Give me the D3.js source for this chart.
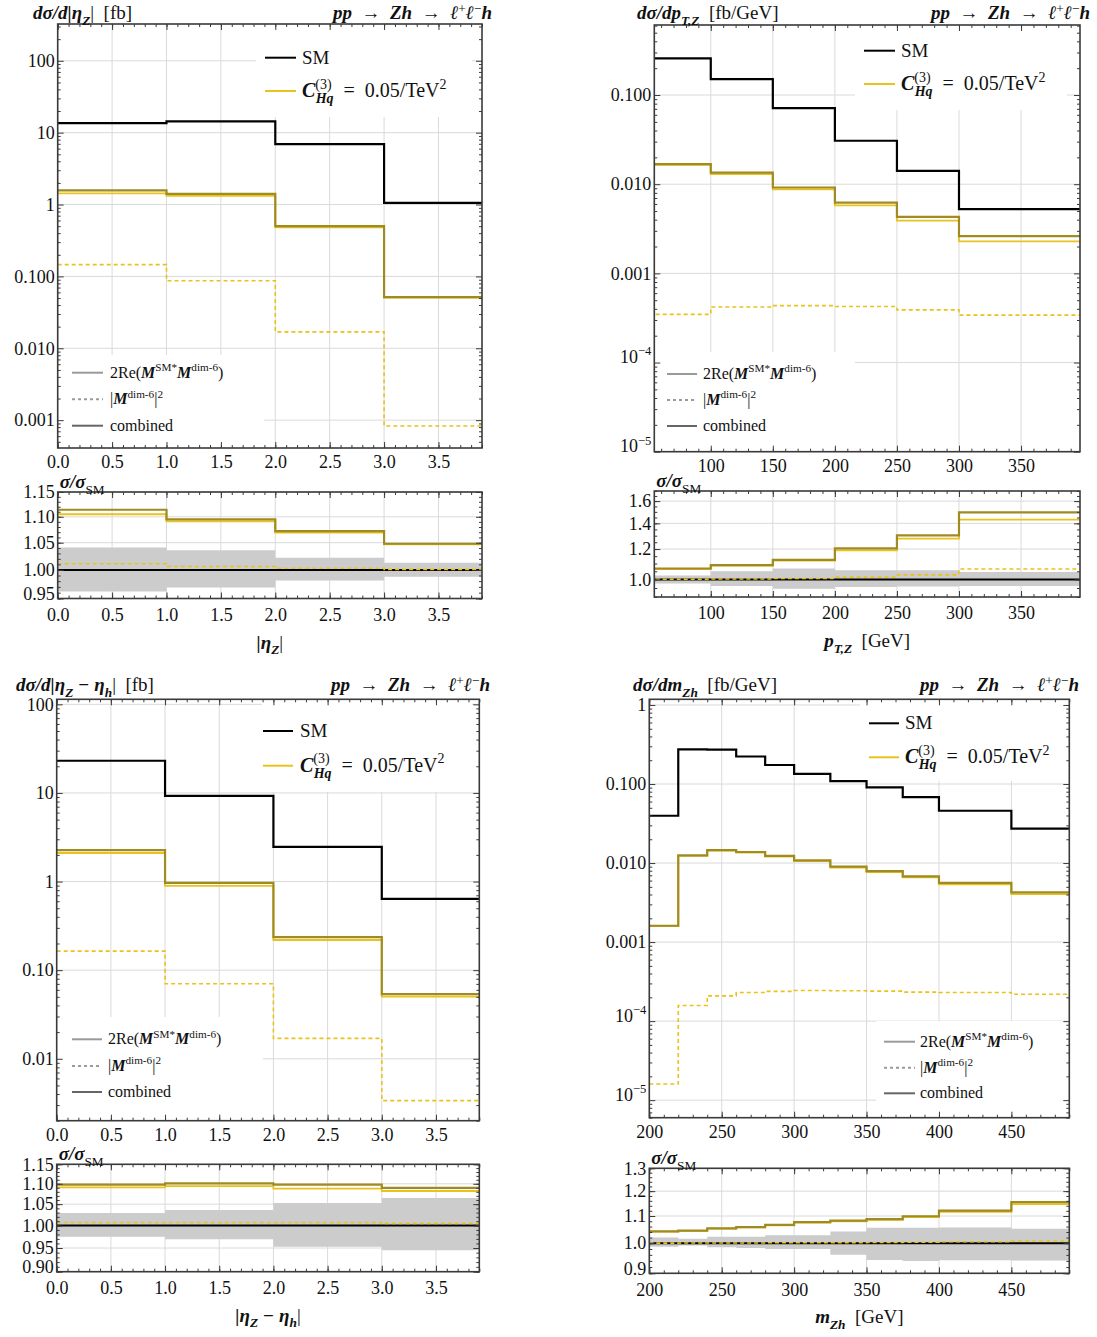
<!DOCTYPE html>
<html>
<head>
<meta charset="utf-8">
<script src="https://d3js.org/d3.v7.min.js"></script>
<style>
  body { margin: 0; background: #fff; }
  text { font-family: "Liberation Serif", "Times New Roman", serif; fill: #111; }
</style>
</head>
<body>
<svg id="chart" width="1097" height="1337"></svg>
<script>
// ---------- data ----------
// |eta_Z|
const etaEdges = [0, 1, 2, 3, 4];
const etaZ_sm = [13.6, 14.4, 6.93, 1.056];
const etaZ_int = [1.43, 1.32, 0.482, 0.0506];
const etaZ_sq = [0.146, 0.087, 0.0169, 0.00083];
const etaZ_comb = [1.57, 1.41, 0.50, 0.0514];
const etaZ_rComb = [1.114, 1.095, 1.072, 1.048];
const etaZ_rInt = [1.105, 1.091, 1.069, 1.047];
const etaZ_rSq = [1.011, 1.006, 1.003, 1.001];
const etaZ_bandHi = [1.041, 1.036, 1.022, 1.013];
const etaZ_bandLo = [0.962, 0.969, 0.981, 0.988];

// p_T,Z
const ptEdges = [50, 100, 150, 200, 250, 300, 400];
const pt_sm = [0.257, 0.151, 0.0714, 0.0307, 0.0141, 0.00525];
const pt_int = [0.0165, 0.0130, 0.00877, 0.0058, 0.0039, 0.00228];
const pt_sq = [3.47e-4, 4.2e-4, 4.35e-4, 4.25e-4, 3.9e-4, 3.4e-4];
const pt_comb = [0.0168, 0.01346, 0.00918, 0.00622, 0.00429, 0.00262];
const pt_rComb = [1.068, 1.090, 1.125, 1.205, 1.303, 1.496];
const pt_rInt = [1.064, 1.086, 1.119, 1.190, 1.277, 1.432];
const pt_rSq = [1.001, 1.003, 1.006, 1.014, 1.028, 1.065];
const pt_bandHi = [1.024, 1.051, 1.068, 1.056, 1.056, 1.045];
const pt_bandLo = [0.976, 0.961, 0.946, 0.955, 0.958, 0.961];

// |eta_Z - eta_h|
const deta_sm = [23.1, 9.25, 2.46, 0.637];
const deta_int = [2.10, 0.896, 0.219, 0.0503];
const deta_sq = [0.164, 0.0703, 0.0170, 0.00337];
const deta_comb = [2.26, 0.966, 0.236, 0.0537];
const deta_rComb = [1.098, 1.101, 1.098, 1.090];
const deta_rInt = [1.091, 1.094, 1.088, 1.082];
const deta_rSq = [1.007, 1.007, 1.007, 1.005];
const deta_bandHi = [1.029, 1.036, 1.053, 1.065];
const deta_bandLo = [0.975, 0.969, 0.953, 0.945];

// m_Zh
const mEdges = [200, 220, 240, 260, 280, 300, 325, 350, 375, 400, 450, 500];
const m_sm = [0.0397, 0.275, 0.272, 0.223, 0.174, 0.134, 0.109, 0.0906, 0.0684, 0.0459, 0.0272];
const m_int = [0.00159, 0.01234, 0.01439, 0.01357, 0.01206, 0.01056, 0.00876, 0.00766, 0.00657, 0.00537, 0.00404];
const m_sq = [1.6e-5, 1.58e-4, 2.09e-4, 2.3e-4, 2.38e-4, 2.44e-4, 2.42e-4, 2.4e-4, 2.33e-4, 2.3e-4, 2.19e-4];
const m_comb = [0.00161, 0.0125, 0.0146, 0.0138, 0.0123, 0.0108, 0.0090, 0.0079, 0.0068, 0.0056, 0.00426];
const m_rComb = [1.042, 1.045, 1.053, 1.058, 1.066, 1.077, 1.082, 1.088, 1.099, 1.121, 1.155];
const m_rInt = [1.0416, 1.0444, 1.0522, 1.057, 1.0646, 1.0752, 1.0798, 1.0854, 1.0956, 1.116, 1.147];
const m_rSq = [1.0004, 1.0006, 1.0008, 1.001, 1.0014, 1.0018, 1.0022, 1.0026, 1.0034, 1.005, 1.008];
const m_bandHi = [1.020, 1.016, 1.023, 1.023, 1.028, 1.028, 1.042, 1.056, 1.056, 1.057, 1.052];
const m_bandLo = [0.988, 0.992, 0.986, 0.983, 0.980, 0.980, 0.960, 0.943, 0.940, 0.942, 0.941];

// tick values / labels
const etaTicks = [0, 0.5, 1, 1.5, 2, 2.5, 3, 3.5];
const etaTickLabels = ["0.0", "0.5", "1.0", "1.5", "2.0", "2.5", "3.0", "3.5"];
const ptTicks = [100, 150, 200, 250, 300, 350];
const mTicks = [200, 250, 300, 350, 400, 450];

const etaZ_yTicks = [0.001, 0.01, 0.1, 1, 10, 100];
const etaZ_yLabels = ["0.001", "0.010", "0.100", "1", "10", "100"];
const pt_yTicks = [1e-5, 1e-4, 0.001, 0.01, 0.1];
const pt_yLabels = ["10^-5", "10^-4", "0.001", "0.010", "0.100"];
const deta_yTicks = [0.01, 0.1, 1, 10, 100];
const deta_yLabels = ["0.01", "0.10", "1", "10", "100"];
const m_yTicks = [1e-5, 1e-4, 0.001, 0.01, 0.1, 1];
const m_yLabels = ["10^-5", "10^-4", "0.001", "0.010", "0.100", "1"];

const etaZ_rTicks = [0.95, 1.0, 1.05, 1.1, 1.15];
const pt_rTicks = [1.0, 1.2, 1.4, 1.6];
const deta_rTicks = [0.9, 0.95, 1.0, 1.05, 1.1, 1.15];
const m_rTicks = [0.9, 1.0, 1.1, 1.2, 1.3];

// ---------- styles ----------
const YEL = "#e9c21c";
const OLIVE = "#a08a22";
const GRID = "#dadada";
const FRAME = "#3a3a3a";

const svg = d3.select("#chart");

function rich(sel, parts, size, supUp) {
  let shift = 0;
  const up = supUp || 0.42;
  parts.forEach(p => {
    const target = p.sub ? size * 0.3 : p.sup ? -size * up : 0;
    const ts = sel.append("tspan").text(p.t)
      .attr("dy", target - shift)
      .style("font-size", (p.sub || p.sup) ? (size * 0.7) + "px" : size + "px");
    if (p.dx) ts.attr("dx", p.dx);
    if (p.i) ts.style("font-style", "italic");
    if (p.b) ts.style("font-weight", "bold");
    shift = target;
  });
  return sel;
}

function labelFmt(labels, ticks) {
  return (d) => labels[ticks.indexOf(d)];
}

function fixPowLabels(g, size) {
  g.selectAll(".tick text").each(function() {
    const s = d3.select(this);
    const t = s.text();
    if (t.startsWith("10^")) {
      s.text("");
      rich(s, [{t: "10"}, {t: t.slice(3).replace("-", "\u2212"), sup: 1}], size);
    }
  });
}

function logMinor(dom) {
  const out = [];
  const lo = Math.floor(Math.log10(dom[0])), hi = Math.ceil(Math.log10(dom[1]));
  for (let e = lo; e <= hi; e++)
    for (let k = 2; k <= 9; k++) {
      const v = k * Math.pow(10, e);
      if (v >= dom[0] && v <= dom[1]) out.push(v);
    }
  return out;
}

function rangeStep(a, b, s) {
  const out = [];
  for (let v = a; v <= b + 1e-9; v += s) out.push(+v.toFixed(6));
  return out;
}

function stepPoints(edges, vals) {
  return edges.map((e, i) => [e, vals[Math.min(i, vals.length - 1)]]);
}

let clipId = 0;

function gridLines(g, x, y, y0, y1, xMajor, yMajor) {
  const x0 = x.range()[0], x1 = x.range()[1];
  g.append("g").selectAll("line").data(xMajor).join("line")
    .attr("x1", d => x(d)).attr("x2", d => x(d)).attr("y1", y0).attr("y2", y1)
    .attr("stroke", GRID).attr("stroke-width", 1);
  g.append("g").selectAll("line").data(yMajor).join("line")
    .attr("x1", x0).attr("x2", x1).attr("y1", d => y(d)).attr("y2", d => y(d))
    .attr("stroke", GRID).attr("stroke-width", 1);
}

function drawTicks(g, x, y, y0, y1, xMajor, xMinor, xFmt, yMajor, yMinor, yFmt, fs, isRatio) {
  const x0 = x.range()[0], x1 = x.range()[1];
  const ax = (gen, tx, ty) => {
    const a = g.append("g").attr("transform", `translate(${tx},${ty})`).call(gen);
    a.select(".domain").remove();
    a.selectAll(".tick line").attr("stroke", FRAME).attr("stroke-width", 1);
    a.selectAll(".tick text").style("font-size", fs + "px").attr("fill", "#111");
    return a;
  };
  const bx = ax(d3.axisBottom(x).tickValues(xMajor).tickFormat(xFmt).tickSizeInner(-6).tickSizeOuter(0)
    .tickPadding(isRatio ? 8 : 6), 0, y1);
  bx.selectAll(".tick text").attr("dy", "0.8em");
  ax(d3.axisBottom(x).tickValues(xMinor).tickFormat("").tickSizeInner(-3).tickSizeOuter(0), 0, y1);
  ax(d3.axisTop(x).tickValues(xMajor).tickFormat("").tickSizeInner(-6).tickSizeOuter(0), 0, y0);
  ax(d3.axisTop(x).tickValues(xMinor).tickFormat("").tickSizeInner(-3).tickSizeOuter(0), 0, y0);
  const ly = ax(d3.axisLeft(y).tickValues(yMajor).tickFormat(yFmt).tickSizeInner(-6).tickSizeOuter(0).tickPadding(3), x0, 0);
  fixPowLabels(ly, fs);
  if (isRatio) {
    // a label sitting on the bottom edge is lifted a little so it clears the x labels
    ly.selectAll(".tick text").filter(d => Math.abs(y(d) - y1) < 4).attr("dy", "0.05em");
  }
  ax(d3.axisLeft(y).tickValues(yMinor).tickFormat("").tickSizeInner(-3).tickSizeOuter(0), x0, 0);
  ax(d3.axisRight(y).tickValues(yMajor).tickFormat("").tickSizeInner(-6).tickSizeOuter(0), x1, 0);
  ax(d3.axisRight(y).tickValues(yMinor).tickFormat("").tickSizeInner(-3).tickSizeOuter(0), x1, 0);
  g.append("rect").attr("x", x0).attr("y", y0).attr("width", x1 - x0).attr("height", y1 - y0)
    .attr("fill", "none").attr("stroke", FRAME).attr("stroke-width", 1.6);
}

function panel(p) {
  const g = svg.append("g");
  const fs = 18;
  const x = d3.scaleLinear().domain(p.xDom).range([p.x0, p.x1]);
  const y = d3.scaleLog().domain(p.yDom).range([p.m1, p.m0]);
  const yr = d3.scaleLog().domain(p.rDom).range([p.r1, p.r0]);

  // ---- main plot ----
  gridLines(g, x, y, p.m0, p.m1, p.xTicks, p.yTicks);
  // legend backgrounds hide the grid
  g.append("rect").attr("x", p.legTop.bx0).attr("y", p.m0 + 1).attr("width", p.legTop.bx1 - p.legTop.bx0)
    .attr("height", p.legTop.by1 - p.m0 - 1).attr("fill", "#fff");
  g.append("rect").attr("x", p.legBot.bx0).attr("y", p.legBot.by0).attr("width", p.legBot.bx1 - p.legBot.bx0)
    .attr("height", p.m1 - p.legBot.by0 - 1).attr("fill", "#fff");

  const cid = "clip" + (clipId++);
  g.append("clipPath").attr("id", cid).append("rect")
    .attr("x", p.x0).attr("y", p.m0).attr("width", p.x1 - p.x0).attr("height", p.m1 - p.m0);
  const line = d3.line().x(d => x(d[0])).y(d => y(d[1])).curve(d3.curveStepAfter);
  const dm = g.append("g").attr("clip-path", `url(#${cid})`);
  dm.append("path").attr("d", line(stepPoints(p.edges, p.sq))).attr("fill", "none")
    .attr("stroke", YEL).attr("stroke-width", 1.6).attr("stroke-dasharray", "4,3");
  dm.append("path").attr("d", line(stepPoints(p.edges, p.int))).attr("fill", "none")
    .attr("stroke", YEL).attr("stroke-width", 1.8);
  dm.append("path").attr("d", line(stepPoints(p.edges, p.comb))).attr("fill", "none")
    .attr("stroke", OLIVE).attr("stroke-width", 2.2);
  dm.append("path").attr("d", line(stepPoints(p.edges, p.sm))).attr("fill", "none")
    .attr("stroke", "#000").attr("stroke-width", 2.2);

  drawTicks(g, x, y, p.m0, p.m1, p.xTicks, p.xMinor, p.xFmt, p.yTicks, logMinor(p.yDom),
    labelFmt(p.yLabels, p.yTicks), fs, false);

  // top legend
  const lt = p.legTop;
  g.append("line").attr("x1", lt.lx0).attr("x2", lt.lx1).attr("y1", lt.row1).attr("y2", lt.row1)
    .attr("stroke", "#000").attr("stroke-width", 2);
  g.append("line").attr("x1", lt.lx0).attr("x2", lt.lx1).attr("y1", lt.row2).attr("y2", lt.row2)
    .attr("stroke", YEL).attr("stroke-width", 2);
  g.append("text").attr("x", lt.tx).attr("y", lt.row1 + 6).style("font-size", "19px").text("SM");
  rich(g.append("text").attr("x", lt.tx).attr("y", lt.row2 + 6),
    [{t: "C", i: 1, b: 1}, {t: "(3)", sup: 1}, {t: "Hq", sub: 1, i: 1, b: 1, dx: -16},
     {t: "\u2002=\u20020.05/TeV"}, {t: "2", sup: 1}], 20);

  // bottom legend
  const lb = p.legBot;
  const styles = [{c: "#9a9a9a", d: null}, {c: "#9a9a9a", d: "3,3"}, {c: "#666", d: null}];
  lb.rows.forEach((ry, i) => {
    g.append("line").attr("x1", lb.lx0).attr("x2", lb.lx1).attr("y1", ry).attr("y2", ry)
      .attr("stroke", styles[i].c).attr("stroke-width", 2).attr("stroke-dasharray", styles[i].d);
  });
  rich(g.append("text").attr("x", lb.tx).attr("y", lb.rows[0] + 5),
    [{t: "2Re("}, {t: "M", i: 1, b: 1}, {t: "SM*", sup: 1}, {t: "M", i: 1, b: 1}, {t: "dim-6", sup: 1}, {t: ")"}], 16);
  rich(g.append("text").attr("x", lb.tx).attr("y", lb.rows[1] + 5),
    [{t: "|"}, {t: "M", i: 1, b: 1}, {t: "dim-6", sup: 1}, {t: "|"}, {t: "2", sup: 1}], 16);
  g.append("text").attr("x", lb.tx).attr("y", lb.rows[2] + 5).style("font-size", "16px").text("combined");

  // titles
  rich(g.append("text").attr("x", p.titleL).attr("y", p.titleY), p.yTitle, 19, 0.33);
  rich(g.append("text").attr("x", p.titleR).attr("y", p.titleY).attr("text-anchor", "end"),
    [{t: "pp\u2002\u2192\u2002Zh\u2002\u2192\u2002\u2113", i: 1, b: 1}, {t: "+", sup: 1}, {t: "\u2113", i: 1, b: 1},
     {t: "\u2212", sup: 1}, {t: "h", i: 1, b: 1}], 19, 0.33);

  // ---- ratio plot ----
  gridLines(g, x, yr, p.r0, p.r1, p.xTicks, p.rTicks);
  const cid2 = "clip" + (clipId++);
  g.append("clipPath").attr("id", cid2).append("rect")
    .attr("x", p.x0).attr("y", p.r0).attr("width", p.x1 - p.x0).attr("height", p.r1 - p.r0);
  const dr = g.append("g").attr("clip-path", `url(#${cid2})`);
  const band = d3.area().x(d => x(d[0])).y0(d => yr(d[1])).y1(d => yr(d[2])).curve(d3.curveStepAfter);
  const bandPts = p.edges.map((e, i) => {
    const k = Math.min(i, p.bandLo.length - 1);
    return [e, p.bandLo[k], p.bandHi[k]];
  });
  dr.append("path").attr("d", band(bandPts)).attr("fill", "#cccccc");
  const rline = d3.line().x(d => x(d[0])).y(d => yr(d[1])).curve(d3.curveStepAfter);
  dr.append("path").attr("d", rline(stepPoints(p.edges, p.edges.map(() => 1)))).attr("fill", "none")
    .attr("stroke", "#000").attr("stroke-width", 2);
  dr.append("path").attr("d", rline(stepPoints(p.edges, p.rSq))).attr("fill", "none")
    .attr("stroke", YEL).attr("stroke-width", 1.6).attr("stroke-dasharray", "4,3");
  dr.append("path").attr("d", rline(stepPoints(p.edges, p.rInt))).attr("fill", "none")
    .attr("stroke", YEL).attr("stroke-width", 1.8);
  dr.append("path").attr("d", rline(stepPoints(p.edges, p.rComb))).attr("fill", "none")
    .attr("stroke", OLIVE).attr("stroke-width", 2.2);

  drawTicks(g, x, yr, p.r0, p.r1, p.xTicks, p.xMinor, p.xFmt, p.rTicks, p.rMinor,
    d => d.toFixed(p.rDigits), fs, true);

  rich(g.append("text").attr("x", p.x0 + 2).attr("y", p.r0 - 4),
    [{t: "\u03c3/\u03c3", i: 1, b: 1}, {t: "SM", sub: 1}], 19);
  rich(g.append("text").attr("x", (p.x0 + p.x1) / 2).attr("y", p.r1 + 50).attr("text-anchor", "middle"),
    p.xTitle, 19);
}

const etaFmt = labelFmt(etaTickLabels, etaTicks);

panel({
  x0: 57.7, x1: 482, m0: 24, m1: 448, r0: 492, r1: 598.5,
  xDom: [0, 3.9], yDom: [4.1e-4, 325], rDom: [0.95, 1.15],
  edges: etaEdges, sm: etaZ_sm, int: etaZ_int, sq: etaZ_sq, comb: etaZ_comb,
  rComb: etaZ_rComb, rInt: etaZ_rInt, rSq: etaZ_rSq, bandHi: etaZ_bandHi, bandLo: etaZ_bandLo,
  xTicks: etaTicks, xMinor: rangeStep(0, 3.9, 0.1), xFmt: etaFmt,
  yTicks: etaZ_yTicks, yLabels: etaZ_yLabels,
  rTicks: etaZ_rTicks, rMinor: rangeStep(0.95, 1.15, 0.01), rDigits: 2,
  legTop: {bx0: 256, bx1: 472, by1: 117, lx0: 265, lx1: 296, tx: 302, row1: 57.7, row2: 91},
  legBot: {bx0: 58, bx1: 264, by0: 355, lx0: 72, lx1: 103, tx: 110, rows: [372.7, 399.3, 425.7]},
  titleL: 33, titleR: 492, titleY: 19,
  yTitle: [{t: "d\u03c3/d|\u03b7", i: 1, b: 1}, {t: "Z", sub: 1, i: 1, b: 1}, {t: "|\u2002[fb]"}],
  xTitle: [{t: "|\u03b7", i: 1, b: 1}, {t: "Z", sub: 1, i: 1, b: 1}, {t: "|"}]
});

panel({
  x0: 654.3, x1: 1080, m0: 25, m1: 451.7, r0: 491, r1: 597,
  xDom: [54.5, 397.5], yDom: [1e-5, 0.61], rDom: [0.9, 1.7],
  edges: ptEdges, sm: pt_sm, int: pt_int, sq: pt_sq, comb: pt_comb,
  rComb: pt_rComb, rInt: pt_rInt, rSq: pt_rSq, bandHi: pt_bandHi, bandLo: pt_bandLo,
  xTicks: ptTicks, xMinor: rangeStep(60, 390, 10), xFmt: d3.format("d"),
  yTicks: pt_yTicks, yLabels: pt_yLabels,
  rTicks: pt_rTicks, rMinor: rangeStep(0.9, 1.7, 0.05), rDigits: 1,
  legTop: {bx0: 855, bx1: 1067, by1: 110, lx0: 864, lx1: 895, tx: 901, row1: 50.7, row2: 84},
  legBot: {bx0: 655, bx1: 855, by0: 352, lx0: 667, lx1: 697, tx: 703, rows: [374, 400, 426]},
  titleL: 637, titleR: 1090, titleY: 19,
  yTitle: [{t: "d\u03c3/dp", i: 1, b: 1}, {t: "T,Z", sub: 1, i: 1, b: 1}, {t: "\u2002[fb/GeV]"}],
  xTitle: [{t: "p", i: 1, b: 1}, {t: "T,Z", sub: 1, i: 1, b: 1}, {t: "\u2002[GeV]"}]
});

panel({
  x0: 56.7, x1: 479.3, m0: 699.3, m1: 1120.7, r0: 1164.3, r1: 1271.7,
  xDom: [0, 3.9], yDom: [0.002, 114], rDom: [0.9, 1.15],
  edges: etaEdges, sm: deta_sm, int: deta_int, sq: deta_sq, comb: deta_comb,
  rComb: deta_rComb, rInt: deta_rInt, rSq: deta_rSq, bandHi: deta_bandHi, bandLo: deta_bandLo,
  xTicks: etaTicks, xMinor: rangeStep(0, 3.9, 0.1), xFmt: etaFmt,
  yTicks: deta_yTicks, yLabels: deta_yLabels,
  rTicks: deta_rTicks, rMinor: rangeStep(0.9, 1.15, 0.01), rDigits: 2,
  legTop: {bx0: 262, bx1: 472, by1: 792, lx0: 263, lx1: 293, tx: 300, row1: 731, row2: 765.7},
  legBot: {bx0: 57, bx1: 263, by0: 1017, lx0: 72, lx1: 102, tx: 108, rows: [1039.3, 1066, 1092]},
  titleL: 16, titleR: 490, titleY: 691,
  yTitle: [{t: "d\u03c3/d|\u03b7", i: 1, b: 1}, {t: "Z", sub: 1, i: 1, b: 1}, {t: " \u2212 \u03b7", i: 1, b: 1},
           {t: "h", sub: 1, i: 1, b: 1}, {t: "|\u2002[fb]"}],
  xTitle: [{t: "|\u03b7", i: 1, b: 1}, {t: "Z", sub: 1, i: 1, b: 1}, {t: " \u2212 \u03b7", i: 1, b: 1},
           {t: "h", sub: 1, i: 1, b: 1}, {t: "|"}]
});

panel({
  x0: 649.3, x1: 1069.3, m0: 699.3, m1: 1117.7, r0: 1168.3, r1: 1273.3,
  xDom: [200, 490], yDom: [6e-6, 1.18], rDom: [0.9, 1.3],
  edges: mEdges, sm: m_sm, int: m_int, sq: m_sq, comb: m_comb,
  rComb: m_rComb, rInt: m_rInt, rSq: m_rSq, bandHi: m_bandHi, bandLo: m_bandLo,
  xTicks: mTicks, xMinor: rangeStep(200, 490, 10), xFmt: d3.format("d"),
  yTicks: m_yTicks, yLabels: m_yLabels,
  rTicks: m_rTicks, rMinor: rangeStep(0.9, 1.3, 0.02), rDigits: 1,
  legTop: {bx0: 860, bx1: 1068, by1: 781, lx0: 869, lx1: 899, tx: 905, row1: 723.3, row2: 757.3},
  legBot: {bx0: 876, bx1: 1068, by0: 1021, lx0: 884, lx1: 915, tx: 920, rows: [1041.7, 1067.7, 1093.3]},
  titleL: 633, titleR: 1079, titleY: 691,
  yTitle: [{t: "d\u03c3/dm", i: 1, b: 1}, {t: "Zh", sub: 1, i: 1, b: 1}, {t: "\u2002[fb/GeV]"}],
  xTitle: [{t: "m", i: 1, b: 1}, {t: "Zh", sub: 1, i: 1, b: 1}, {t: "\u2002[GeV]"}]
});
</script>
</body>
</html>
